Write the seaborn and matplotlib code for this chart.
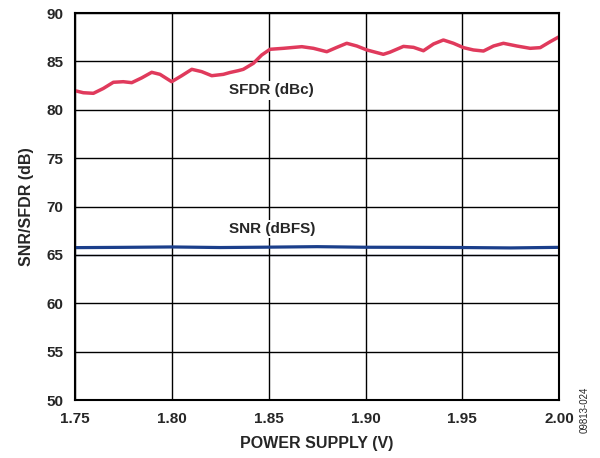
import numpy as np
import pandas as pd
import matplotlib
matplotlib.use("Agg")
import matplotlib.pyplot as plt
import seaborn as sns

# values
sfdr_v = [1.7500, 1.7543, 1.7595, 1.7646, 1.7698, 1.7749, 1.7793, 1.7845, 1.7896,
          1.7939, 1.7999, 1.8051, 1.8103, 1.8154, 1.8206, 1.8266, 1.8300, 1.8343,
          1.8369, 1.8421, 1.8464, 1.8507, 1.8576, 1.8671, 1.8731, 1.8800, 1.8852,
          1.8903, 1.8955, 1.9007, 1.9092, 1.9126, 1.9196, 1.9248, 1.9299, 1.9351,
          1.9402, 1.9454, 1.9506, 1.9557, 1.9609, 1.9661, 1.9712, 1.9781, 1.9850,
          1.9902, 1.9953, 2.0000]
sfdr_db = [81.97, 81.76, 81.70, 82.20, 82.84, 82.90, 82.80, 83.30, 83.87,
           83.66, 82.90, 83.52, 84.18, 83.94, 83.52, 83.66, 83.85, 84.04,
           84.18, 84.80, 85.66, 86.25, 86.35, 86.52, 86.35, 86.00, 86.45,
           86.87, 86.59, 86.18, 85.73, 85.95, 86.55, 86.45, 86.10, 86.80,
           87.21, 86.87, 86.42, 86.18, 86.07, 86.59, 86.87, 86.59, 86.35,
           86.42, 87.03, 87.55]

snr_v = [1.75, 1.775, 1.80, 1.825, 1.85, 1.875, 1.90, 1.925, 1.95, 1.975, 2.00]
snr_db = [65.75, 65.78, 65.82, 65.76, 65.8, 65.85, 65.79, 65.78, 65.76, 65.72, 65.78]

sfdr = pd.DataFrame({"v": sfdr_v, "db": sfdr_db})
snr = pd.DataFrame({"v": snr_v, "db": snr_db})

sns.set_style("white")
plt.rcParams["font.family"] = ["Liberation Sans", "DejaVu Sans"]
plt.rcParams["font.weight"] = "bold"
plt.rcParams["lines.solid_joinstyle"] = "round"
plt.rcParams["lines.solid_capstyle"] = "round"

fig = plt.figure(figsize=(6, 4.58), dpi=100)
ax = fig.add_axes([0.125, 0.1266, 0.807, 0.845])

sns.lineplot(data=sfdr, x="v", y="db", ax=ax, color="#E03A5C", linewidth=2.5)
sns.lineplot(data=snr, x="v", y="db", ax=ax, color="#1B3F8B", linewidth=2.3)
ax.axhline(65, color="#1B3F8B", linewidth=0.9, zorder=0.5)

ticks_x = np.arange(1.75, 2.001, 0.05)
ax.set_xlim(1.75, 2.00)
ax.set_ylim(50, 90)
ax.set_xticks(ticks_x)
ax.set_yticks(np.arange(50, 91, 5))
ax.set_xticklabels([f"{t:.2f}" for t in ticks_x])
ax.grid(True, color="black", linewidth=1.0)
ax.set_axisbelow(True)
for s in ax.spines.values():
    s.set_color("black")
    s.set_linewidth(1.5)
ax.tick_params(labelsize=11, length=0, pad=8.5)
for lbl in ax.get_xticklabels() + ax.get_yticklabels():
    lbl.set_fontweight("bold")

ax.set_xlabel("POWER SUPPLY (V)", fontsize=11.5, fontweight="bold", labelpad=7)
ax.set_ylabel("SNR/SFDR (dB)", fontsize=11.5, fontweight="bold", labelpad=9)

box = dict(facecolor="white", edgecolor="none", pad=1.5)
ax.text(1.8513, 82.0, "SFDR (dBc)", ha="center", va="center", fontsize=11,
        fontweight="bold", bbox=box)
ax.text(1.8517, 67.65, "SNR (dBFS)", ha="center", va="center", fontsize=11,
        fontweight="bold", bbox=box)
fig.text(0.975, 0.105, "09813-024", rotation=90, ha="center", va="center",
         fontsize=7, fontweight="normal")

fig.savefig("out.png", dpi=100)
